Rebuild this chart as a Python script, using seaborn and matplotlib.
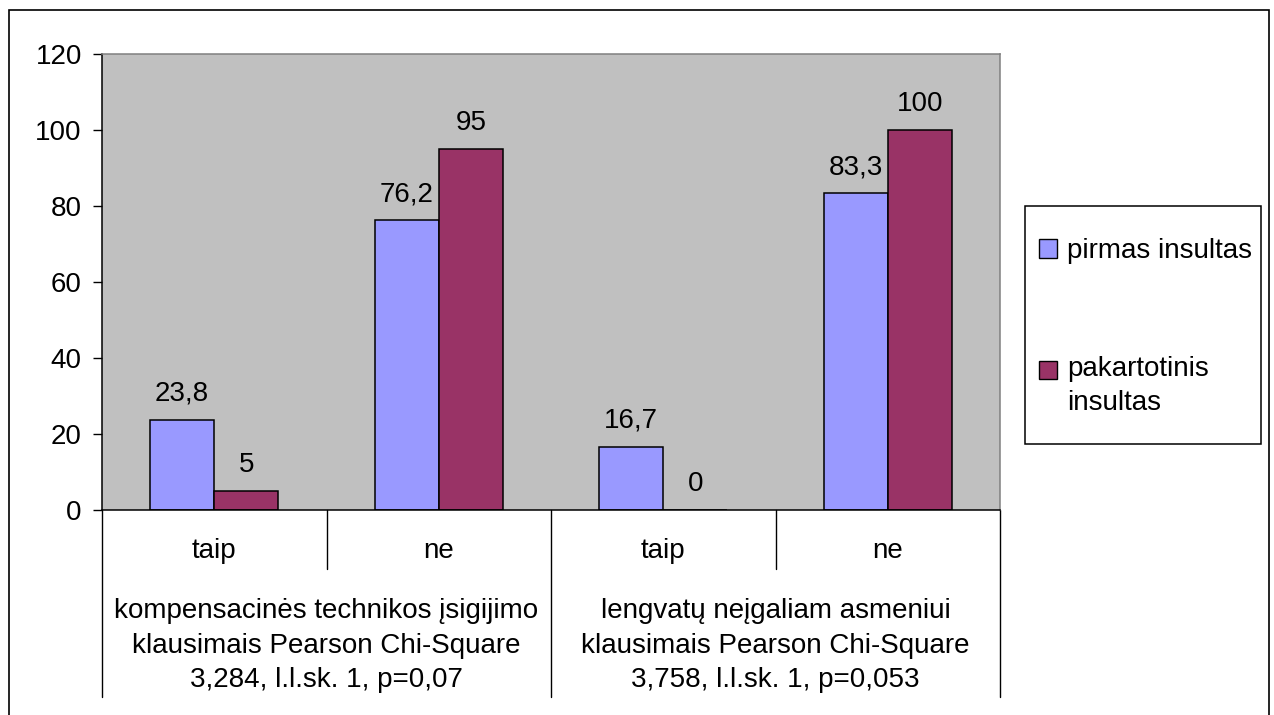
import matplotlib
matplotlib.use("Agg")
import matplotlib.pyplot as plt
import matplotlib.transforms as mtransforms
from matplotlib.patches import Rectangle, Patch
import pandas as pd
import seaborn as sns

# ---- data ----
categories = ["taip", "ne", "taip", "ne"]
group_labels = [
    "kompensacinės technikos įsigijimo\nklausimais Pearson Chi-Square\n3,284, l.l.sk. 1, p=0,07",
    "lengvatų neįgaliam asmeniui\nklausimais Pearson Chi-Square\n3,758, l.l.sk. 1, p=0,053",
]
series_names = ["pirmas insultas", "pakartotinis insultas"]
legend_labels = ["pirmas insultas", "pakartotinis\ninsultas"]
pirmas = [23.8, 76.2, 16.7, 83.3]
pakartotinis = [5, 95, 0, 100]
y_ticks = [0, 20, 40, 60, 80, 100, 120]

# ---- styling ----
BLUE = "#9999FF"
MAROON = "#993366"
PLOT_BG = "#C0C0C0"
FS = 20

sns.set_theme(style="white")
plt.rcParams["font.family"] = ["Liberation Sans", "DejaVu Sans"]
plt.rcParams["text.color"] = "black"
plt.rcParams["legend.labelcolor"] = "black"

W, H = 1274, 715
fig = plt.figure(figsize=(W / 100, H / 100), dpi=100)
fig.patch.set_facecolor("white")


def fx(px):
    return px / W


def fy(py):
    return 1 - py / H


ax = fig.add_axes([fx(102), fy(510), fx(1000) - fx(102), fy(54) - fy(510)])
ax.set_facecolor(PLOT_BG)

# unique slot keys keep the two "taip"/"ne" pairs apart
slots = [f"{i}:{c}" for i, c in enumerate(categories)]
df = pd.DataFrame({
    "slot": slots * 2,
    "value": pirmas + pakartotinis,
    "series": [series_names[0]] * 4 + [series_names[1]] * 4,
})

sns.barplot(
    data=df, x="slot", y="value", hue="series", order=slots,
    hue_order=series_names, palette=[BLUE, MAROON], saturation=1,
    width=0.5714, edgecolor="black", linewidth=1.1, errorbar=None,
    legend=False, ax=ax,
)


def fmt(v):
    return f"{v:g}".replace(".", ",")


for cont, vals in zip(ax.containers, [pirmas, pakartotinis]):
    ax.bar_label(cont, labels=[fmt(v) for v in vals], padding=9.5,
                 fontsize=FS, color="black")

ax.set_xlim(-0.5, len(categories) - 0.5)
ax.set_ylim(0, 120)
ax.set_yticks(y_ticks)
ax.set_yticklabels([str(t) for t in y_ticks], fontsize=FS, color="black")
ax.tick_params(axis="y", which="major", direction="out", length=6.5,
               width=1.0, color="black", pad=8, left=True)
ax.set_xticks([])
ax.set_xlabel("")
ax.set_ylabel("")

for side in ["left", "bottom"]:
    ax.spines[side].set_color("black")
    ax.spines[side].set_linewidth(1.1)
for side in ["top", "right"]:
    ax.spines[side].set_color("#808080")
    ax.spines[side].set_linewidth(1.1)

# ---- two-level category axis ----
blend = mtransforms.blended_transform_factory(ax.transData, fig.transFigure)
for i, cat in enumerate(categories):
    ax.text(i, fy(558), cat, transform=blend, ha="center", va="baseline",
            fontsize=FS, color="black")
for x in [0.5, 2.5]:
    ax.plot([x, x], [fy(510), fy(569)], transform=blend, color="black",
            lw=1.0, clip_on=False)
for x in [-0.5, 1.5, 3.5]:
    ax.plot([x, x], [fy(510), fy(697)], transform=blend, color="black",
            lw=1.0, clip_on=False)
# baseline of the last wrapped line sits at the given y
for g, lbl in enumerate(group_labels):
    ax.text(2 * g + 0.5, fy(687), lbl, transform=blend, ha="center",
            va="baseline", multialignment="center", linespacing=1.42,
            fontsize=FS, color="black")

# ---- legend ----
fig.add_artist(Rectangle((fx(1025), fy(444)), fx(1261) - fx(1025),
                         fy(206) - fy(444), transform=fig.transFigure,
                         facecolor="white", edgecolor="black", lw=1.1))
handles = [Patch(facecolor=BLUE, edgecolor="black", lw=1.0),
           Patch(facecolor=MAROON, edgecolor="black", lw=1.0)]
leg = fig.legend(handles=handles, labels=legend_labels, loc="center left",
                 bbox_to_anchor=(fx(1039), fy(327)), frameon=False,
                 fontsize=FS, handlelength=0.65, handleheight=0.65,
                 handletextpad=0.36, labelspacing=3.3, borderpad=0,
                 borderaxespad=0)
for t in leg.get_texts():
    t.set_linespacing(1.37)
    t.set_color("black")
# put the second swatch beside the first line of its wrapped label
h2 = leg.legend_handles[1]
h2.set_y(h2.get_y() + 11.6)

# ---- chart border ----
fig.add_artist(Rectangle((fx(9), -0.1), fx(1269) - fx(9), fy(10) + 0.1,
                         transform=fig.transFigure, fill=False,
                         edgecolor="black", lw=1.2))

fig.savefig("out.png", dpi=100)
